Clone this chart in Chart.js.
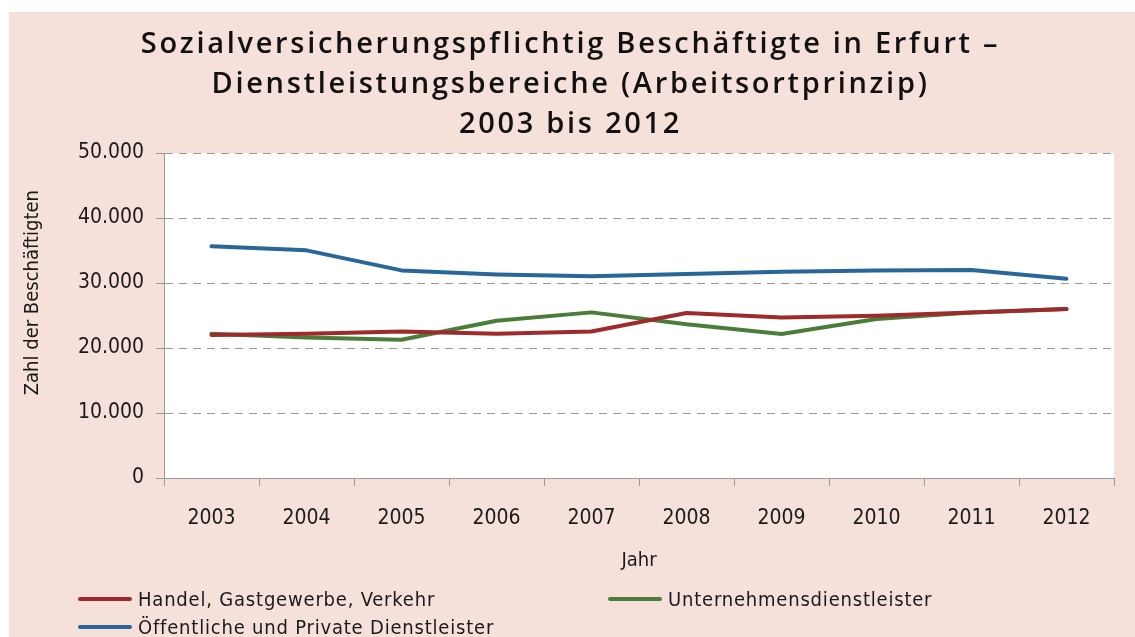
<!DOCTYPE html>
<html>
<head>
<meta charset="utf-8">
<script src="https://cdn.jsdelivr.net/npm/chart.js@4"></script>
<style>
  html, body { margin: 0; padding: 0; background: #fff; }
  #wrap { position: absolute; left: 9px; top: 12px; width: 1126px; height: 625px; background: #f6e1da; overflow: hidden; }
  #legend { position: absolute; left: 0; top: 0; width: 100%; height: 100%; pointer-events: none; }
  .item { position: absolute; display: flex; align-items: center; font-family: "DejaVu Sans Condensed", sans-serif; font-size: 20px; letter-spacing: 0.8px; color: #1a1a1a; white-space: nowrap; }
  .item span.sw { display: inline-block; width: 54px; height: 4px; border-radius: 2px; margin-right: 6px; }
</style>
</head>
<body>
<div id="wrap">
  <canvas id="chart"></canvas>
  <div id="legend"></div>
</div>
<script>
const years = ["2003", "2004", "2005", "2006", "2007", "2008", "2009", "2010", "2011", "2012"];
const handel = [22000, 22200, 22550, 22200, 22550, 25380, 24700, 24970, 25450, 26000];
const unternehmen = [22200, 21630, 21280, 24200, 25480, 23650, 22150, 24460, 25450, 26000];
const oeffentlich = [35650, 35020, 31940, 31320, 31020, 31380, 31740, 31940, 32000, 30660];
const yTicks = [0, 10000, 20000, 30000, 40000, 50000];

const narrow = '"DejaVu Sans Condensed", sans-serif';
const fmt = v => String(v).replace(/\B(?=(\d{3})+(?!\d))/g, '.');

// white plot area
const plotBg = {
  id: 'plotBg',
  beforeDraw(chart) {
    const a = chart.chartArea, ctx = chart.ctx;
    ctx.save();
    ctx.fillStyle = '#fff';
    ctx.fillRect(a.left, a.top, a.right - a.left, a.bottom - a.top);
    ctx.restore();
  }
};

// the title in the original is set with wide tracking
const titleSpacing = {
  id: 'titleSpacing',
  afterInit(chart) {
    const tb = chart.titleBlock;
    if (!tb) return;
    const orig = tb.draw.bind(tb);
    tb.draw = function() {
      const ctx = chart.ctx;
      ctx.save();
      ctx.letterSpacing = '2.7px';
      ctx.translate(9, 0);
      orig();
      ctx.restore();
    };
  }
};

const series = [
  { label: 'Handel, Gastgewerbe, Verkehr', data: handel, color: '#9e2a2b' },
  { label: 'Unternehmensdienstleister', data: unternehmen, color: '#4b7d3a' },
  { label: 'Öffentliche und Private Dienstleister', data: oeffentlich, color: '#296799' }
];

const chart = new Chart(document.getElementById('chart'), {
  type: 'line',
  data: {
    labels: years,
    datasets: series.map(s => ({
      label: s.label,
      data: s.data,
      borderColor: s.color,
      backgroundColor: s.color,
      borderWidth: 4,
      borderCapStyle: 'round',
      borderJoinStyle: 'round',
      pointRadius: 0,
      tension: 0
    }))
  },
  options: {
    responsive: true,
    maintainAspectRatio: false,
    animation: false,
    layout: { padding: { left: 0, right: 21, top: 0, bottom: 60 } },
    plugins: {
      legend: { display: false },
      tooltip: { enabled: false },
      title: {
        display: true,
        text: ['Sozialversicherungspflichtig Beschäftigte in Erfurt –',
               'Dienstleistungsbereiche (Arbeitsortprinzip)',
               '2003 bis 2012'],
        color: '#111',
        font: { family: '"Open Sans", sans-serif', size: 29, weight: '600', lineHeight: 40 / 29 },
        padding: { top: 13, bottom: 8 }
      }
    },
    scales: {
      x: {
        type: 'category',
        offset: true,
        grid: { display: true, drawOnChartArea: false, drawTicks: true, tickLength: 8, offset: true, color: '#999', tickColor: '#999' },
        border: { display: true, color: '#999', width: 1 },
        ticks: { color: '#1a1a1a', padding: 20, maxRotation: 0, font: { family: narrow, size: 21 } },
        title: { display: true, text: 'Jahr', color: '#1a1a1a', font: { family: narrow, size: 20 }, padding: { top: 4, bottom: 4 } },
        afterFit(s) { s.height = 99; }
      },
      y: {
        min: 0,
        max: 50000,
        afterBuildTicks(s) { s.ticks = yTicks.map(v => ({ value: v })); },
        grid: { color: '#999', lineWidth: 1, tickLength: 8, tickColor: '#999', tickBorderDash: [] },
        border: { display: true, color: '#999', width: 1, dash: [8, 6] },
        ticks: { color: '#1a1a1a', padding: 12, font: { family: narrow, size: 21 }, callback: v => fmt(v) },
        // leading spaces lift the rotated title a little above centre, as in the original
        title: { display: true, text: '        Zahl der Beschäftigten', color: '#1a1a1a', font: { family: narrow, size: 20 }, padding: { top: 12, bottom: 0 } },
        afterFit(s) { s.width = 155; }
      }
    }
  },
  plugins: [plotBg, titleSpacing]
});

// legend built from the datasets, laid out in two columns
const legendPos = [[69, 588], [599, 588], [69, 616]];
const legendEl = document.getElementById('legend');
chart.data.datasets.forEach((ds, i) => {
  const it = document.createElement('div');
  it.className = 'item';
  it.style.left = legendPos[i][0] + 'px';
  it.style.top = (legendPos[i][1] - 13) + 'px';
  it.innerHTML = '<span class="sw" style="background:' + ds.borderColor + '"></span>';
  it.appendChild(document.createTextNode(ds.label));
  legendEl.appendChild(it);
});
</script>
</body>
</html>
